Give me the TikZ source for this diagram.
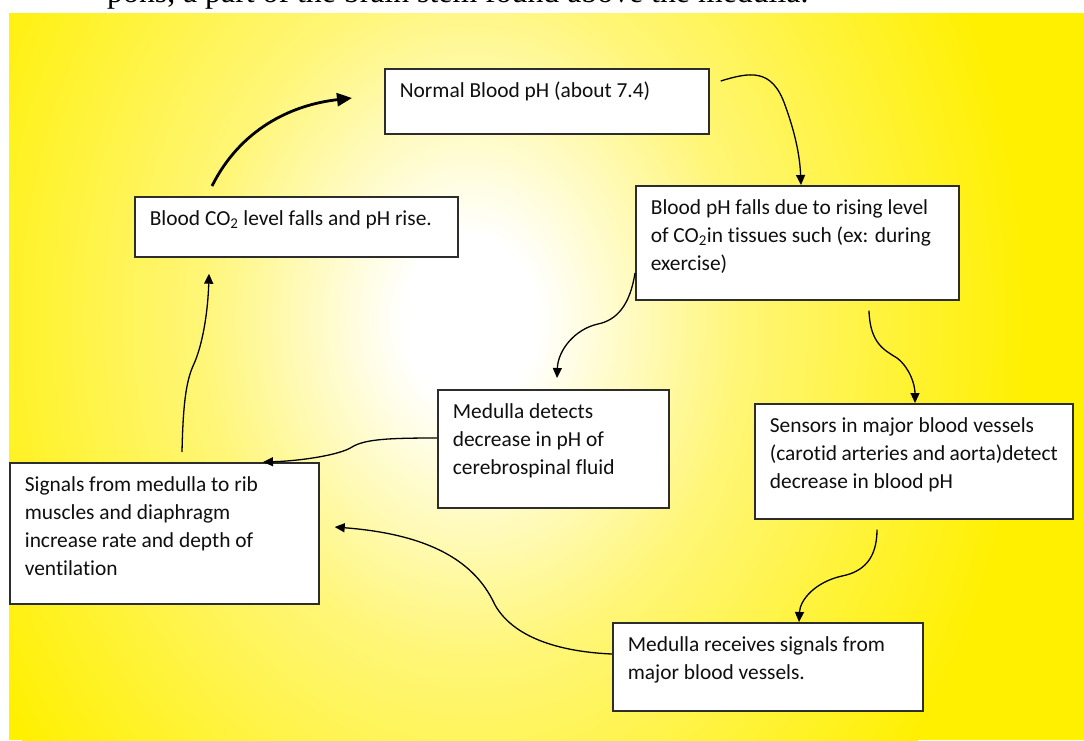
\documentclass[tikz,border=0pt]{standalone}
\usepackage{fontspec}
\setmainfont{Carlito}[Ligatures=NoCommon]
\newfontfamily\toptextfont{Liberation Serif}
\usetikzlibrary{arrows.meta,calc}
\definecolor{yel}{RGB}{255,240,0}
\definecolor{glowmid}{RGB}{255,246,120}
\definecolor{boxline}{RGB}{45,45,45}
\definecolor{textcol}{RGB}{15,15,15}
\pgfdeclareradialshading{glow}{\pgfpoint{0bp}{0bp}}{color(0bp)=(white); color(3bp)=(white); color(12bp)=(glowmid); color(25bp)=(yel); color(50bp)=(yel)}
\newcommand\bxline[1]{\hbox to\hsize{\rule{0pt}{16pt}#1\hfil}}
\tikzset{
  box/.style={draw=boxline, line width=1.7pt, fill=white, anchor=north west,
    inner xsep=15pt, inner ysep=12.5pt, text=textcol,
    font=\fontsize{21.4}{28}\selectfont},
  conn/.style={draw=black, line width=1.3pt, -{Triangle[length=10pt,width=9pt]}},
  bigconn/.style={draw=black, line width=2.8pt, -{Triangle[length=15pt,width=13pt]}},
}
\begin{document}
\begin{tikzpicture}[x=1pt,y=-1pt]
\useasboundingbox (0,0) rectangle (1084,740);
\fill[white] (0,0) rectangle (1084,740);
\begin{scope}
  \clip (0,0) rectangle (1084,13);
  \node[anchor=base west, inner sep=0, font=\toptextfont\fontsize{31.8}{36}\selectfont, text=black] (toptext) at (107,2) {pons, a part of the brain stem found above the medulla.};
\end{scope}
\begin{scope}
  \clip (9,13) rectangle (1084,740);
  \fill[yel] (9,13) rectangle (1084,740);
  \shade[shading=glow] (470,320) ellipse [x radius=560pt, y radius=700pt];
\end{scope}

% boxes
\node[box] (n1) at (384,68) {\parbox[c][40pt][t]{294pt}{\bxline{Normal Blood pH (about 7.4)}}};
\node[box] (n2) at (134,196) {\parbox[c][35pt][t]{293pt}{\bxline{Blood CO\textsubscript{2} level falls and pH rise.}}};
\node[box] (n3) at (635,185) {\parbox[c][89pt][t]{293pt}{\bxline{Blood pH falls due to rising level}\bxline{of CO\textsubscript{2}in tissues such (ex: during}\bxline{exercise)}}};
\node[box] (n4) at (437,389) {\parbox[c][93pt][t]{201pt}{\bxline{Medulla detects}\bxline{decrease in pH of}\bxline{cerebrospinal fluid}}};
\node[box] (n5) at (9,462) {\parbox[c][116pt][t]{279pt}{\bxline{Signals from medulla to rib}\bxline{muscles and diaphragm}\bxline{increase rate and depth of}\bxline{ventilation}}};
\node[box] (n6) at (754,403) {\parbox[c][90pt][t]{288pt}{\bxline{Sensors in major blood vessels}\bxline{(carotid arteries and aorta)detect}\bxline{decrease in blood pH}}};
\node[box] (n7) at (612,622) {\parbox[c][63pt][t]{280pt}{\bxline{Medulla receives signals from}\bxline{major blood vessels.}}};

% connector end points
\coordinate (a1) at ($(n2.north west)+(78,-10)$);
\coordinate (a2) at ($(n1.north west)+(-32,30)$);
\coordinate (b1) at ($(n1.north east)+(11,13)$);
\coordinate (b2) at ($(n3.north west)+(166,0)$);
\coordinate (c1) at ($(n3.north west)+(0,88)$);
\coordinate (c2) at ($(n4.north west)+(120,-11)$);
\coordinate (d1) at ($(n3.south west)+(234,10)$);
\coordinate (d2) at ($(n6.north west)+(161,0)$);
\coordinate (e1) at ($(n6.south west)+(123,10)$);
\coordinate (e2) at ($(n7.north west)+(187,0)$);
\coordinate (f1) at ($(n7.north west)+(0,32)$);
\coordinate (f2) at ($(n5.north east)+(15,65)$);
\coordinate (g1) at ($(n4.north west)+(0,49)$);
\coordinate (g2) at ($(n5.north west)+(254,0)$);
\coordinate (h1) at ($(n5.north west)+(173,-10)$);
\coordinate (h2) at ($(n2.south west)+(75,16)$);

% connectors
\draw[bigconn] (a1) .. controls (240,130) and (290,105) .. (a2);
\draw[conn] (b1) .. controls (750,72) and (772,68) .. (785,105) .. controls (797,138) and (800,160) .. (b2);
\draw[conn] (c1) .. controls (630,305) and (617,320) .. (598,324) .. controls (575,329) and (558,350) .. (c2);
\draw[conn] (d1) .. controls (870,343) and (884,350) .. (897,358) .. controls (910,368) and (915,385) .. (d2);
\draw[conn] (e1) .. controls (877,560) and (862,572) .. (842,576) .. controls (815,582) and (800,600) .. (e2);
\draw[conn] (f1) .. controls (565,652) and (515,640) .. (495,605) .. controls (478,568) and (440,535) .. (f2);
\draw[conn] (g1) .. controls (390,438) and (365,439) .. (352,447) .. controls (340,455) and (300,461) .. (g2);
\draw[conn] (h1) .. controls (183,405) and (186,382) .. (193,366) .. controls (203,345) and (208,310) .. (h2);
\end{tikzpicture}
\end{document}
